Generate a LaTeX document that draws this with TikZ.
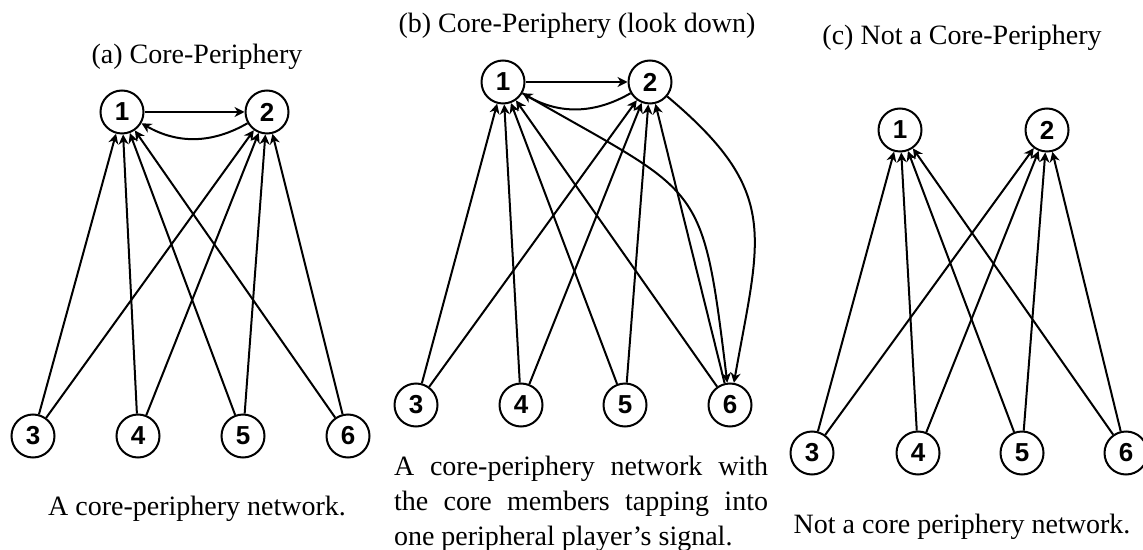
\documentclass[tikz,border=0pt]{standalone}
\usepackage{fontspec}
\setmainfont{Liberation Serif}
\newfontfamily\numfont{Liberation Sans}
\usetikzlibrary{arrows.meta}
\newcommand{\capfont}{\fontsize{14pt}{17.5pt}\selectfont}

\begin{document}
\begin{tikzpicture}[x=0.5pt, y=0.5pt, >={Stealth[length=5pt, width=5pt, inset=1.6pt]}, line width=1pt,
	player/.style={draw, circle, minimum size=21.5pt, inner sep=0pt, font=\numfont\bfseries\fontsize{13pt}{13pt}\selectfont},
	title/.style={anchor=base, inner sep=0pt, font=\capfont}]
	\useasboundingbox (0, 0) rectangle (1143, -550);

	\node[title] (atitle) at (197, -64) {(a) Core-Periphery};
	\node[player] (a1) at (122, -112) {1};
	\node[player] (a2) at (267, -112) {2};
	\node[player] (a3) at (33, -436) {3};
	\node[player] (a4) at (138, -436) {4};
	\node[player] (a5) at (243, -436) {5};
	\node[player] (a6) at (348, -436) {6};
	\node[title] (acap) at (197, -515) {A core-periphery network.};

	\draw [->] (a1) -- (a2);
	\draw [->] (a2) to[bend left=30] (a1);
	\draw [->] (a3) -- (a1);
	\draw [->] (a4) -- (a1);
	\draw [->] (a5) -- (a1);
	\draw [->] (a6) -- (a1);
	\draw [->] (a3) -- (a2);
	\draw [->] (a4) -- (a2);
	\draw [->] (a5) -- (a2);
	\draw [->] (a6) -- (a2);

	\node[title] (btitle) at (577, -33) {(b) Core-Periphery (look down)};
	\node[player] (b1) at (503, -82) {1};
	\node[player] (b2) at (650, -82) {2};
	\node[player] (b3) at (416, -405) {3};
	\node[player] (b4) at (521, -405) {4};
	\node[player] (b5) at (625, -405) {5};
	\node[player] (b6) at (730, -405) {6};
	\node[title, anchor=base west, text width=187pt, align=justify] (bcap) at (393, -475) {A core-periphery network with the core members tapping into one peripheral player’s signal.};

	\draw [->] (b1) -- (b2);
	\draw [->] (b2) to[bend left=30] (b1);
	\draw [->] (b3) -- (b1);
	\draw [->] (b4) -- (b1);
	\draw [->] (b5) -- (b1);
	\draw [->] (b6) -- (b1);
	\draw [->] (b3) -- (b2);
	\draw [->] (b4) -- (b2);
	\draw [->] (b5) -- (b2);
	\draw [->] (b6) -- (b2);
	\draw [->] (b1) to[out=-30, in=97, looseness=1.5] (b6);
	\draw [->] (b2) to[out=-40, in=80, looseness=1.3] (b6);

	\node[title] (ctitle) at (962, -45) {(c) Not a Core-Periphery};
	\node[player] (c1) at (900, -130) {1};
	\node[player] (c2) at (1047, -130) {2};
	\node[player] (c3) at (812, -453) {3};
	\node[player] (c4) at (918, -453) {4};
	\node[player] (c5) at (1022, -453) {5};
	\node[player] (c6) at (1126, -453) {6};
	\node[title] (ccap) at (962, -533) {Not a core periphery network.};

	\draw [->] (c3) -- (c1);
	\draw [->] (c4) -- (c1);
	\draw [->] (c5) -- (c1);
	\draw [->] (c6) -- (c1);
	\draw [->] (c3) -- (c2);
	\draw [->] (c4) -- (c2);
	\draw [->] (c5) -- (c2);
	\draw [->] (c6) -- (c2);
\end{tikzpicture}
\end{document}
